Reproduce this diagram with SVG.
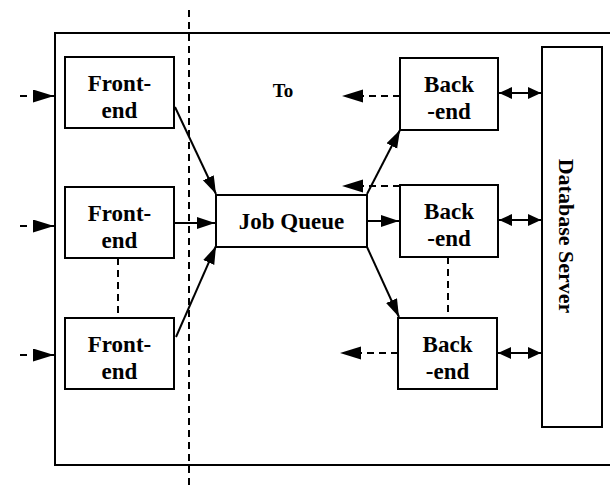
<svg xmlns="http://www.w3.org/2000/svg" width="610" height="489" viewBox="0 0 610 489">
  <style>
    .box { fill: #fff; stroke: #000; stroke-width: 2; }
    .lbl { font-family: "Liberation Serif", "Times New Roman", serif; font-weight: bold; font-size: 23px; fill: #000; text-anchor: middle; }
    .small { font-size: 19px; }
    .side { font-size: 22px; }
    .solid { stroke: #000; stroke-width: 2; fill: none; }
    .dash { stroke: #000; stroke-width: 2; fill: none; stroke-dasharray: 7 5; }
    .feed { stroke: #000; stroke-width: 2; fill: none; stroke-dasharray: 7 8; }
  </style>
  <defs>
    <marker id="head" markerUnits="userSpaceOnUse" markerWidth="20" markerHeight="14" refX="18" refY="6" orient="auto">
      <path d="M0,0 L18,6 L0,12 z" fill="#000"/>
    </marker>
    <marker id="bighead" markerUnits="userSpaceOnUse" markerWidth="24" markerHeight="14" refX="21" refY="6.5" orient="auto">
      <path d="M0,0 L21,6.5 L0,13 z" fill="#000"/>
    </marker>
    <marker id="dbl" markerUnits="userSpaceOnUse" markerWidth="16" markerHeight="14" refX="13" refY="6" orient="auto-start-reverse">
      <path d="M0,0 L13,6 L0,12 z" fill="#000"/>
    </marker>
  </defs>

  <!-- system boundary -->
  <rect id="system" x="55" y="33" width="570" height="432" fill="none" stroke="#000" stroke-width="2"/>

  <!-- partition line -->
  <line x1="189" y1="10" x2="189" y2="489" class="dash" stroke-dasharray="8 5"/>

  <text id="to-label" class="lbl small" x="283" y="97">To</text>

  <g id="frontend1">
    <rect class="box" x="65" y="57" width="109" height="71"/>
    <text class="lbl" x="119.5" y="91">Front-</text>
    <text class="lbl" x="119.5" y="118">end</text>
  </g>
  <g id="frontend2">
    <rect class="box" x="65" y="187" width="109" height="71"/>
    <text class="lbl" x="119.5" y="221">Front-</text>
    <text class="lbl" x="119.5" y="248">end</text>
  </g>
  <g id="frontend3">
    <rect class="box" x="65" y="318" width="109" height="71"/>
    <text class="lbl" x="119.5" y="352">Front-</text>
    <text class="lbl" x="119.5" y="379">end</text>
  </g>

  <g id="jobqueue">
    <rect class="box" x="216" y="195" width="151" height="52"/>
    <text class="lbl" x="291.5" y="229">Job Queue</text>
  </g>

  <g id="backend1">
    <rect class="box" x="400" y="58" width="98" height="72"/>
    <text class="lbl" x="449" y="92">Back</text>
    <text class="lbl" x="449" y="119">-end</text>
  </g>
  <g id="backend2">
    <rect class="box" x="400" y="185" width="98" height="72"/>
    <text class="lbl" x="449" y="219">Back</text>
    <text class="lbl" x="449" y="246">-end</text>
  </g>
  <g id="backend3">
    <rect class="box" x="398" y="318" width="99" height="71"/>
    <text class="lbl" x="447.5" y="352">Back</text>
    <text class="lbl" x="447.5" y="379">-end</text>
  </g>

  <g id="database">
    <rect class="box" x="542" y="47" width="60" height="380"/>
    <text class="lbl side" transform="translate(559,236) rotate(90)" x="0" y="0">Database Server</text>
  </g>

  <g id="connectors">
    <!-- incoming requests -->
    <line class="feed" x1="20" y1="96" x2="54" y2="96" marker-end="url(#bighead)"/>
    <line class="feed" x1="20" y1="226" x2="54" y2="226" marker-end="url(#bighead)"/>
    <line class="feed" x1="20" y1="355" x2="54" y2="355" marker-end="url(#bighead)"/>

    <!-- front-ends to job queue -->
    <line class="solid" x1="175" y1="107" x2="216" y2="194" marker-end="url(#head)"/>
    <line class="solid" x1="174" y1="223" x2="215" y2="223" marker-end="url(#head)"/>
    <line class="solid" x1="176" y1="337" x2="216" y2="246" marker-end="url(#head)"/>

    <!-- job queue to back-ends -->
    <line class="solid" x1="367" y1="194" x2="400" y2="130" marker-end="url(#head)"/>
    <line class="solid" x1="367" y1="221" x2="399" y2="221" marker-end="url(#head)"/>
    <line class="solid" x1="367" y1="247" x2="399" y2="317" marker-end="url(#head)"/>

    <!-- replies -->
    <line class="dash" x1="400" y1="96" x2="342" y2="96" marker-end="url(#bighead)"/>
    <line class="dash" x1="400" y1="186" x2="342" y2="186" marker-end="url(#bighead)"/>
    <line class="dash" x1="398" y1="353" x2="340" y2="353" marker-end="url(#bighead)"/>

    <!-- replica links -->
    <line class="dash" x1="118" y1="258" x2="118" y2="318"/>
    <line class="dash" x1="448" y1="257" x2="448" y2="318"/>

    <!-- back-ends to database -->
    <line class="solid" x1="499" y1="93" x2="541" y2="93" marker-start="url(#dbl)" marker-end="url(#dbl)"/>
    <line class="solid" x1="499" y1="220" x2="541" y2="220" marker-start="url(#dbl)" marker-end="url(#dbl)"/>
    <line class="solid" x1="498" y1="353" x2="541" y2="353" marker-start="url(#dbl)" marker-end="url(#dbl)"/>
  </g>
</svg>
